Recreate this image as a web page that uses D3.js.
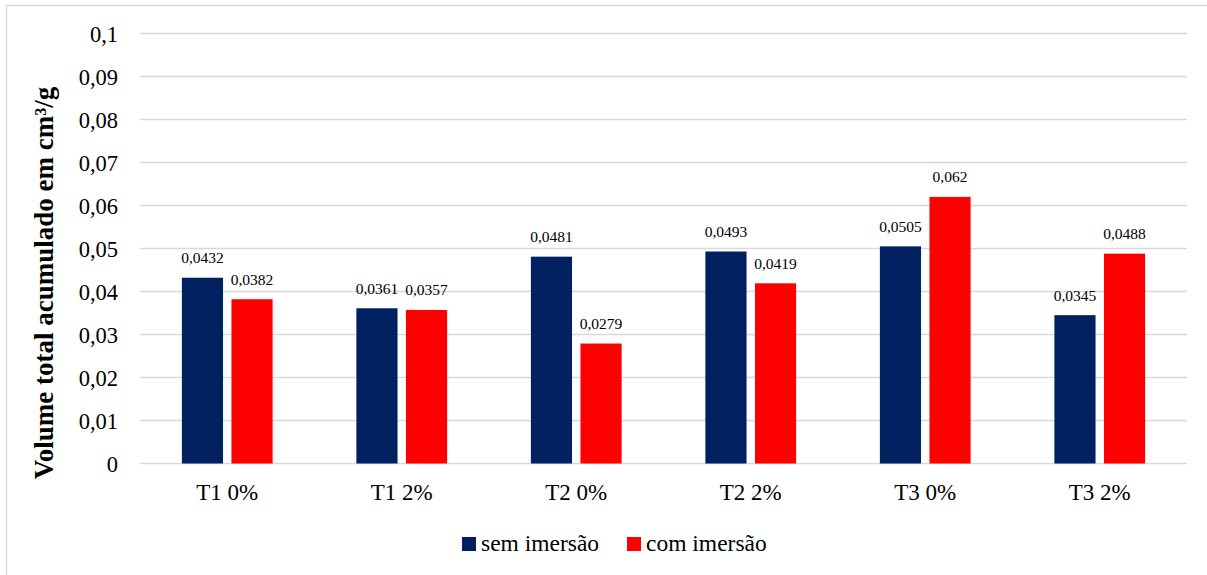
<!DOCTYPE html>
<html>
<head>
<meta charset="utf-8">
<script src="https://cdn.jsdelivr.net/npm/d3@7"></script>
<style>
  html, body { margin: 0; padding: 0; background: #fff; }
  svg text { font-family: "Liberation Serif", "Times New Roman", Times, serif !important; }
</style>
</head>
<body>
<svg id="chart" width="1207" height="575"></svg>
<script>
// Volume total acumulado (cm³/g) por tratamento
const categories = ["T1 0%", "T1 2%", "T2 0%", "T2 2%", "T3 0%", "T3 2%"];
const seriesNames = ["sem imersão", "com imersão"];
const semImersao = [0.0432, 0.0361, 0.0481, 0.0493, 0.0505, 0.0345];
const comImersao = [0.0382, 0.0357, 0.0279, 0.0419, 0.062, 0.0488];
const yTicks = [0, 0.01, 0.02, 0.03, 0.04, 0.05, 0.06, 0.07, 0.08, 0.09, 0.1];
const colors = ["#002060", "#FF0000"];

const fmt = v => String(v).replace(".", ",");

const svg = d3.select("#chart");

// outer chart frame
svg.append("rect")
  .attr("x", 6.5).attr("y", 5.5)
  .attr("width", 1220).attr("height", 600)
  .attr("fill", "#fff").attr("stroke", "#d9d9d9").attr("stroke-width", 1.5);

const plot = { left: 140, right: 1187, top: 33.5, bottom: 463.5 };

const y = d3.scaleLinear().domain([0, 0.1]).range([plot.bottom, plot.top]);
const x = d3.scaleBand().domain(categories).range([plot.left, plot.right])
  .paddingInner(0.48).paddingOuter(0.24);
const xs = d3.scaleBand().domain(seriesNames).range([0, x.bandwidth()]).paddingInner(0.17);

// horizontal gridlines
svg.append("g").selectAll("line").data(yTicks).join("line")
  .attr("x1", plot.left).attr("x2", plot.right)
  .attr("y1", d => y(d)).attr("y2", d => y(d))
  .attr("stroke", "#d9d9d9").attr("stroke-width", 1.4);

// y axis tick labels
const yAxis = d3.axisLeft(y).tickValues(yTicks).tickFormat(fmt).tickSize(0).tickPadding(0);
const gy = svg.append("g").attr("transform", `translate(118,0)`).call(yAxis);
gy.attr("font-family", null).attr("font-size", null);
gy.select(".domain").remove();
gy.selectAll("text")
  .attr("font-size", 22.5).attr("fill", "#000").attr("dy", "0.34em");

// x axis category labels
const xAxis = d3.axisBottom(x).tickSize(0).tickPadding(0);
const gx = svg.append("g").attr("transform", `translate(0,500)`).call(xAxis);
gx.attr("font-family", null).attr("font-size", null);
gx.select(".domain").remove();
gx.selectAll("text")
  .attr("font-size", 23).attr("fill", "#000").attr("dy", 0).attr("y", 0);

// bars
const data = categories.map((c, i) => ({
  cat: c,
  vals: [
    { s: seriesNames[0], v: semImersao[i], k: 0 },
    { s: seriesNames[1], v: comImersao[i], k: 1 }
  ]
}));

const groups = svg.append("g").selectAll("g").data(data).join("g")
  .attr("transform", d => `translate(${x(d.cat)},0)`);

groups.selectAll("rect").data(d => d.vals).join("rect")
  .attr("x", d => xs(d.s))
  .attr("width", xs.bandwidth())
  .attr("y", d => y(d.v))
  .attr("height", d => y(0) - y(d.v))
  .attr("fill", d => colors[d.k]);

// data labels
groups.selectAll("text").data(d => d.vals).join("text")
  .attr("x", d => xs(d.s) + xs.bandwidth() / 2)
  .attr("y", d => y(d.v) - 14.5)
  .attr("text-anchor", "middle")
  .attr("font-size", 15.5).attr("fill", "#000")
  .text(d => fmt(d.v));

// y axis title
svg.append("text")
  .attr("transform", "translate(53,283) rotate(-90)")
  .attr("text-anchor", "middle")
  .attr("font-size", 27).attr("font-weight", "bold").attr("fill", "#000")
  .text("Volume total acumulado em cm³/g");

// legend
const legend = svg.append("g");
const legendX = [462, 627];
seriesNames.forEach((name, i) => {
  legend.append("rect")
    .attr("x", legendX[i]).attr("y", 537)
    .attr("width", 14).attr("height", 14)
    .attr("fill", colors[i]);
  legend.append("text")
    .attr("x", legendX[i] + 19).attr("y", 551)
    .attr("font-size", 23.5).attr("fill", "#000")
    .text(name);
});
</script>
</body>
</html>
